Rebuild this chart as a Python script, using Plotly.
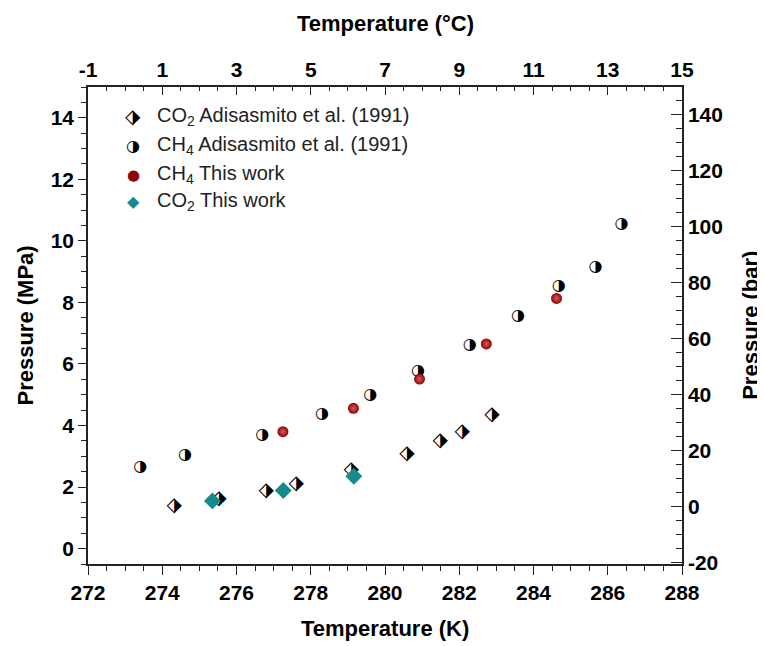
import plotly.graph_objects as go

# ---------------- data ----------------
co2_adis_T = [274.32, 275.53, 276.80, 277.61, 279.09, 280.59, 281.49, 282.08, 282.88]
co2_adis_P = [1.37, 1.60, 1.87, 2.11, 2.56, 3.08, 3.51, 3.78, 4.34]

ch4_adis_T = [273.41, 274.61, 276.69, 278.30, 279.60, 280.89, 282.28, 283.58, 284.68, 285.67, 286.37]
ch4_adis_P = [2.66, 3.03, 3.69, 4.37, 4.99, 5.77, 6.63, 7.56, 8.53, 9.14, 10.55]

ch4_this_T = [277.25, 279.15, 280.93, 282.73, 284.62]
ch4_this_P = [3.80, 4.56, 5.51, 6.65, 8.13]

co2_this_T = [275.35, 277.26, 279.16]
co2_this_P = [1.55, 1.89, 2.35]

x_ticks_K = [272, 274, 276, 278, 280, 282, 284, 286, 288]
x_ticks_C = [-1, 1, 3, 5, 7, 9, 11, 13, 15]
y_ticks_MPa = [0, 2, 4, 6, 8, 10, 12, 14]
y_ticks_bar = [-20, 0, 20, 40, 60, 80, 100, 120, 140]

legend_labels = [
    "CO<sub>2</sub> Adisasmito et al. (1991)",
    "CH<sub>4</sub> Adisasmito et al. (1991)",
    "CH<sub>4</sub> This work",
    "CO<sub>2</sub> This work",
]

FONT = "Liberation Sans, Arial, sans-serif"
GLYPH_FONT = "DejaVu Sans"
RED = "#8c0505"
TEAL = "#168b8d"

fig = go.Figure()

# Literature data: half-filled symbols drawn as glyphs
fig.add_trace(go.Scatter(
    x=co2_adis_T, y=co2_adis_P, mode="text", text=["\u2B17"] * len(co2_adis_T),
    textposition="middle center", textfont=dict(family=GLYPH_FONT, size=20, color="black"),
    showlegend=False, hoverinfo="x+y"))
fig.add_trace(go.Scatter(
    x=ch4_adis_T, y=ch4_adis_P, mode="text", text=["\u25D1"] * len(ch4_adis_T),
    textposition="middle center", textfont=dict(family=GLYPH_FONT, size=16, color="black"),
    showlegend=False, hoverinfo="x+y"))

# This work
fig.add_trace(go.Scatter(
    x=ch4_this_T, y=ch4_this_P, mode="markers",
    marker=dict(symbol="circle", size=11, color=RED, line=dict(width=0),
                gradient=dict(type="radial", color="#d9595b")),
    showlegend=False))
fig.add_trace(go.Scatter(
    x=co2_this_T, y=co2_this_P, mode="markers",
    marker=dict(symbol="diamond", size=13, color=TEAL, line=dict(width=0)),
    showlegend=False))

# secondary axes carrier (empty)
fig.add_trace(go.Scatter(x=[], y=[], xaxis="x2", yaxis="y2", showlegend=False, hoverinfo="skip"))

tickfont = dict(family=FONT, size=21, color="black", weight="bold")
axis_common = dict(showline=True, linecolor="#222", linewidth=1.5, showgrid=False, zeroline=False,
                   tickcolor="#222", tickwidth=1.3, tickfont=tickfont)

# page body has an 8px margin: figure is sized/offset to keep the plot area in place
fig.update_layout(
    width=757, height=638,
    margin=dict(l=80, r=83, t=79, b=82),
    paper_bgcolor="white", plot_bgcolor="white",
    showlegend=False,
    xaxis=dict(range=[272, 288], tickvals=x_ticks_K, ticktext=[str(v) for v in x_ticks_K],
               ticks="outside", ticklen=9,
               minor=dict(dtick=0.5, tick0=272, ticks="outside", ticklen=5, tickcolor="#222"),
               **axis_common),
    xaxis2=dict(range=[-1, 15], overlaying="x", side="top", tickvals=x_ticks_C,
                ticktext=[str(v) for v in x_ticks_C],
                ticks="inside", ticklen=8,
                minor=dict(dtick=0.5, tick0=-1, ticks="inside", ticklen=4, tickcolor="#222"),
                **axis_common),
    yaxis=dict(range=[-0.5, 15], tickvals=y_ticks_MPa, ticktext=[str(v) for v in y_ticks_MPa],
               ticks="outside", ticklen=8,
               minor=dict(dtick=0.5, tick0=0, ticks="outside", ticklen=5, tickcolor="#222"),
               **axis_common),
    yaxis2=dict(range=[-20.5, 150], overlaying="y", side="right", tickvals=y_ticks_bar,
                ticktext=[str(v) for v in y_ticks_bar],
                ticks="inside", ticklen=11,
                minor=dict(dtick=5, tick0=0, ticks="inside", ticklen=6, tickcolor="#222"),
                **axis_common),
)

# Axis titles
title_font = dict(family=FONT, size=22, color="black", weight="bold")
annotations = [
    dict(text="Temperature (K)", x=0.5, y=-0.136, xref="paper", yref="paper",
         showarrow=False, font=title_font, xanchor="center", yanchor="middle"),
    dict(text="Temperature (°C)", x=0.5, y=1.134, xref="paper", yref="paper",
         showarrow=False, font=title_font, xanchor="center", yanchor="middle"),
    dict(text="Pressure (MPa)", x=-0.106, y=0.5, xref="paper", yref="paper", textangle=-90,
         showarrow=False, font=title_font, xanchor="center", yanchor="middle"),
    dict(text="Pressure (bar)", x=1.115, y=0.5, xref="paper", yref="paper", textangle=-90,
         showarrow=False, font=title_font, xanchor="center", yanchor="middle"),
]

# Legend drawn as annotations
row_y = [0.939, 0.878, 0.816, 0.759]
glyphs = [
    ("\u2B17", dict(family=GLYPH_FONT, size=20, color="black")),
    ("\u25D1", dict(family=GLYPH_FONT, size=16, color="black")),
    ("\u25CF", dict(family=GLYPH_FONT, size=15, color=RED)),
    ("\u25C6", dict(family=GLYPH_FONT, size=16, color=TEAL)),
]
for (g, gf), lab, yy in zip(glyphs, legend_labels, row_y):
    annotations.append(dict(text=g, x=0.0758, y=yy, xref="paper", yref="paper", showarrow=False,
                            font=gf, xanchor="center", yanchor="middle"))
    annotations.append(dict(text=lab, x=0.113, y=yy, xref="paper", yref="paper", showarrow=False,
                            font=dict(family=FONT, size=20, color="#222"),
                            xanchor="left", yanchor="middle"))

fig.update_layout(annotations=annotations)

fig.write_html("out.html")
